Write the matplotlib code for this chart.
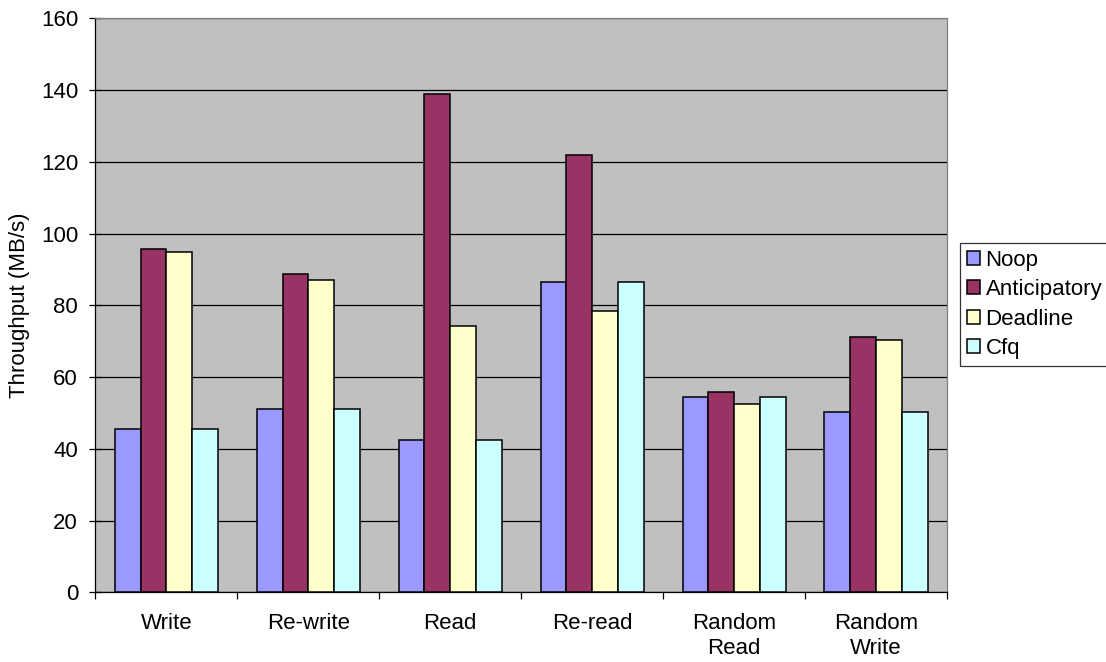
import matplotlib
matplotlib.use('Agg')
import matplotlib.pyplot as plt
import numpy as np

plt.rcParams['font.family'] = ['Liberation Sans', 'DejaVu Sans']

categories = ['Write', 'Re-write', 'Read', 'Re-read', 'Random\nRead', 'Random\nWrite']
series_names = ['Noop', 'Anticipatory', 'Deadline', 'Cfq']
noop = [45.5, 51.1, 42.5, 86.4, 54.5, 50.4]
anticipatory = [95.8, 88.7, 138.8, 121.9, 55.8, 71.2]
deadline = [95.0, 87.2, 74.3, 78.3, 52.6, 70.3]
cfq = [45.5, 51.1, 42.5, 86.4, 54.5, 50.4]
colors = ['#9999FF', '#993366', '#FFFFCC', '#CCFFFF']

fig = plt.figure(figsize=(11.06, 6.62), dpi=100)
ax = fig.add_axes([0.0863, 0.105, 0.770, 0.8674])
ax.set_facecolor('#C0C0C0')

bar_w = 1 / 5.5
x = np.arange(len(categories)) + 0.5
for i, (vals, name) in enumerate(zip([noop, anticipatory, deadline, cfq], series_names)):
    ax.bar(x + (i - 1.5) * bar_w, vals, width=bar_w, color=colors[i],
           edgecolor='black', linewidth=1.1, label=name, zorder=3)

ax.set_xlim(0, len(categories))
ax.set_ylim(0, 160)
ax.set_yticks(np.arange(0, 161, 20))
ax.yaxis.grid(True, color='black', linewidth=0.9, zorder=1)
ax.set_axisbelow(True)

# category boundaries get tick marks, labels sit at the centers
ax.set_xticks(np.arange(len(categories) + 1))
ax.set_xticklabels([])
ax.set_xticks(x, minor=True)
ax.set_xticklabels(categories, minor=True, fontsize=16)
ax.tick_params(axis='x', which='major', direction='out', length=5, width=0.9)
ax.tick_params(axis='x', which='minor', length=0, pad=15)
ax.tick_params(axis='y', direction='inout', length=9, width=0.9, labelsize=16, pad=8)

ax.set_ylabel('Throughput (MB/s)', fontsize=16, labelpad=8)

for s in ['left', 'bottom']:
    ax.spines[s].set_color('black')
    ax.spines[s].set_linewidth(0.9)
for s in ['top', 'right']:
    ax.spines[s].set_color('#808080')
    ax.spines[s].set_linewidth(0.9)

leg = ax.legend(loc='upper left', bbox_to_anchor=(960 / 1106, 1 - 243 / 662),
                bbox_transform=fig.transFigure, fontsize=16, frameon=True,
                fancybox=False, edgecolor='black', borderaxespad=0,
                handlelength=0.6, handleheight=0.6, handletextpad=0.25,
                labelspacing=0.38, borderpad=0.3)
leg.get_frame().set_linewidth(0.9)
leg.get_frame().set_facecolor('white')

fig.savefig('out.png', dpi=100)
